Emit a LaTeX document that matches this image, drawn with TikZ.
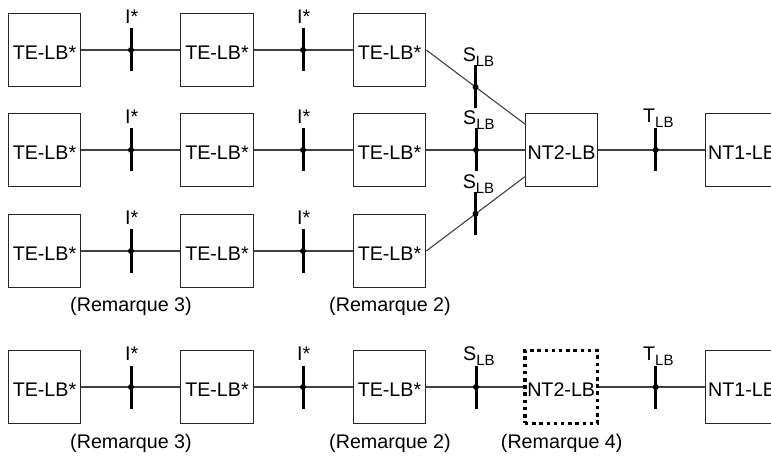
\documentclass[tikz,border=0pt]{standalone}
\usepackage{fontspec}
\setmainfont{Liberation Sans}
\usetikzlibrary{calc}
\newcommand\lbsub{\raisebox{-5pt}{\fontsize{15}{15}\selectfont LB}}
\tikzset{
  box/.style={draw=black!85, line width=1pt, minimum width=72.5pt, minimum height=72.5pt, inner sep=0pt, text height=18.5pt, text depth=0pt, font=\fontsize{19.7}{20}\selectfont},
  dotbox/.style={box, draw=black, line width=3.3pt, dash pattern=on 3.5pt off 3.7pt},
  conn/.style={draw=black!75, line width=1.1pt},
  tickline/.style={draw=black, line width=3pt},
  lbl/.style={inner sep=0pt, font=\fontsize{19.7}{20}\selectfont},
}
\newcommand\tickat[1]{\fill (#1) circle (3pt); \draw[tickline] ([yshift=21.5pt]#1) -- ([yshift=-21.5pt]#1);}
\begin{document}
\begin{tikzpicture}[x=1pt,y=-1pt]
\useasboundingbox (0,0) rectangle (771,457);
\clip (0,0) rectangle (771,457);
% row 1
\node[box] (b11) at (44.5,50) {TE-LB*};
\node[box] (b12) at (217,50) {TE-LB*};
\node[box] (b13) at (389.5,50) {TE-LB*};
% row 2
\node[box] (b21) at (44.5,150) {TE-LB*};
\node[box] (b22) at (217,150) {TE-LB*};
\node[box] (b23) at (389.5,150) {TE-LB*};
\node[box] (nt2) at (561.6,150) {NT2-LB};
\node[box] (nt1) at (742,150) {NT1-LB};
% row 3
\node[box] (b31) at (44.5,251) {TE-LB*};
\node[box] (b32) at (217,251) {TE-LB*};
\node[box] (b33) at (389.5,251) {TE-LB*};
% row 4
\node[box] (b41) at (44.5,387) {TE-LB*};
\node[box] (b42) at (217,387) {TE-LB*};
\node[box] (b43) at (389.5,387) {TE-LB*};
\node[dotbox] (nt2d) at (561.2,387) {NT2-LB};
\node[box] (nt1d) at (742,387) {NT1-LB};

% connectors
\draw[conn] (b11) -- (b12);
\draw[conn] (b12) -- (b13);
\draw[conn] (b21) -- (b22);
\draw[conn] (b22) -- (b23);
\draw[conn] (b23) -- (nt2);
\draw[conn] (nt2) -- (nt1);
\draw[conn] (b31) -- (b32);
\draw[conn] (b32) -- (b33);
\draw[conn] (b41) -- (b42);
\draw[conn] (b42) -- (b43);
\draw[conn] (b43) -- (nt2d);
\draw[conn] (nt2d) -- (nt1d);
\coordinate (n2a) at ([yshift=26pt]nt2.west);
\coordinate (n2c) at ([yshift=-26.7pt]nt2.west);
\draw[conn] (b13.east) -- (n2a);
\draw[conn] (b33.east) -- (n2c);

% tick points
\coordinate (i11) at (131,50);   \coordinate (i12) at (303,50);
\coordinate (i21) at (131,150);  \coordinate (i22) at (303,150);
\coordinate (i31) at (131,251);  \coordinate (i32) at (303,251);
\coordinate (i41) at (131,387);  \coordinate (i42) at (303,387);
\coordinate (s1) at ($(b13.east)!0.5!(n2a)$);
\coordinate (s2) at (476,150);
\coordinate (s3) at ($(b33.east)!0.5!(n2c)$);
\coordinate (s4) at (476,387);
\coordinate (t2) at (655.7,150);
\coordinate (t4) at (655.7,387);

\foreach \p in {i11,i12,i21,i22,i31,i32,i41,i42,s1,s2,s3,s4,t2,t4} {\tickat{\p}}

% labels
\foreach \p in {i11,i12,i21,i22,i31,i32,i41,i42}
  \node[lbl, anchor=base] at ([yshift=26.7pt, xshift=0.7pt]\p) {I*};
\foreach \p in {s1,s2,s3}
  \node[lbl, anchor=base west] at ([yshift=25.7pt, xshift=-13pt]\p) {S\lbsub};
\node[lbl, anchor=base west] at ([yshift=26.5pt, xshift=-13pt]s4) {S\lbsub};
\node[lbl, anchor=base west] at ([yshift=27pt, xshift=-12.7pt]t2) {T\lbsub};
\node[lbl, anchor=base west] at ([yshift=27pt, xshift=-12.7pt]t4) {T\lbsub};

\node[lbl] (r3a) at (131,306) {(Remarque 3)};
\node[lbl] (r2a) at (390,306) {(Remarque 2)};
\node[lbl] (r3b) at (131,443) {(Remarque 3)};
\node[lbl] (r2b) at (390,443) {(Remarque 2)};
\node[lbl] (r4b) at (561.7,443) {(Remarque 4)};
\end{tikzpicture}
\end{document}
